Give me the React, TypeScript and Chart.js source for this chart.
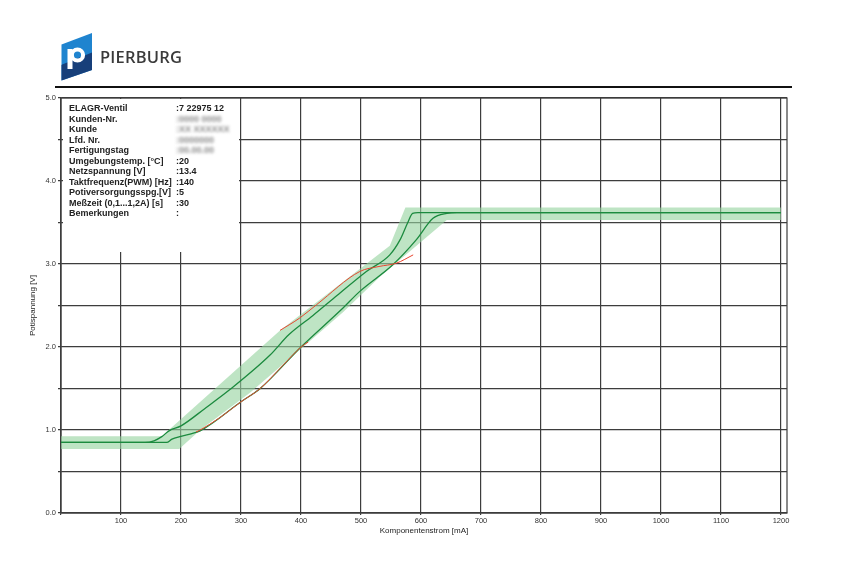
import React, { useEffect, useRef } from "react";
import { Chart, registerables } from "chart.js";

Chart.register(...registerables);

// ---- data ----
const xTickValues = [0, 100, 200, 300, 400, 500, 600, 700, 800, 900, 1000, 1100, 1200];
const yTickValues = [0, 0.5, 1, 1.5, 2, 2.5, 3, 3.5, 4, 4.5, 5];

const bandUpperX = [0, 168, 365, 548, 574, 1200];
const bandUpperY = [0.925, 0.925, 2.2, 3.22, 3.68, 3.68];
const bandLowerX = [0, 197, 232, 315, 400, 470, 532, 643, 1200];
const bandLowerY = [0.77, 0.77, 1.0, 1.45, 1.98, 2.42, 2.85, 3.53, 3.53];

const greenUpX = [0, 140, 155, 168, 180, 200, 240, 282, 348, 380, 420, 460, 509, 548, 565, 578, 586, 595, 1200];
const greenUpY = [0.85, 0.85, 0.87, 0.92, 0.99, 1.05, 1.26, 1.49, 1.9, 2.15, 2.38, 2.62, 2.91, 3.11, 3.29, 3.5, 3.61, 3.62, 3.62];

const greenLowX = [0, 176, 185, 198, 215, 232, 300, 332, 400, 470, 498, 553, 592, 620, 643, 660, 1200];
const greenLowY = [0.85, 0.85, 0.89, 0.92, 0.95, 0.99, 1.34, 1.5, 2.0, 2.47, 2.67, 2.99, 3.29, 3.55, 3.61, 3.62, 3.62];

const redLowX = [225, 232, 265, 300, 332, 370, 400, 412];
const redLowY = [0.975, 1.0, 1.15, 1.34, 1.5, 1.78, 2.0, 2.06];
const redUpX = [365, 398, 426, 498, 530, 559, 587];
const redUpY = [2.2, 2.35, 2.51, 2.91, 2.97, 3.01, 3.11];

const infoLabels = [
  "ELAGR-Ventil",
  "Kunden-Nr.",
  "Kunde",
  "Lfd. Nr.",
  "Fertigungstag",
  "Umgebungstemp. [°C]",
  "Netzspannung  [V]",
  "Taktfrequenz(PWM) [Hz]",
  "Potiversorgungsspg.[V]",
  "Meßzeit (0,1...1,2A) [s]",
  "Bemerkungen",
];
const infoValues = [":7 22975 12", ":0000 0000", ":XX XXXXXX", ":0000000", ":00.00.00", ":20", ":13.4", ":140", ":5", ":30", ":"];
const infoBlurred = [false, true, true, true, true, false, false, false, false, false, false];

const pts = (xs: number[], ys: number[]) => xs.map((x, i) => ({ x, y: ys[i] }));

const GREEN = "#1b8a3e";
const RED = "#e8452f";
const BAND = "rgba(150, 212, 160, 0.62)";
const GRID = "#3d3d3d";
const FONT = "'Liberation Sans', Arial, Helvetica, sans-serif";

const framePlugin = {
  id: "frame",
  beforeDatasetsDraw(chart: any) {
    const { ctx, chartArea } = chart;
    ctx.save();
    ctx.strokeStyle = GRID;
    ctx.lineWidth = 1.2;
    ctx.strokeRect(chartArea.left, chartArea.top, chartArea.right - chartArea.left, chartArea.bottom - chartArea.top);
    ctx.restore();
  },
};

function PlotChart() {
  const ref = useRef<HTMLCanvasElement>(null);
  useEffect(() => {
    if (!ref.current) return;
    const line = (xs: number[], ys: number[], color: string, width: number, order: number) => ({
      data: pts(xs, ys),
      borderColor: color,
      borderWidth: width,
      pointRadius: 0,
      fill: false,
      cubicInterpolationMode: "monotone",
      order,
    });
    const chart = new Chart(ref.current, {
      type: "line",
      data: {
        datasets: [
          {
            data: pts(bandUpperX, bandUpperY),
            borderColor: "rgba(0,0,0,0)",
            borderWidth: 0,
            pointRadius: 0,
            fill: false,
            order: 10,
          },
          {
            data: pts(bandLowerX, bandLowerY),
            borderColor: "rgba(0,0,0,0)",
            borderWidth: 0,
            pointRadius: 0,
            backgroundColor: BAND,
            fill: "-1",
            order: 9,
          },
          line(greenUpX, greenUpY, GREEN, 1.3, 5),
          line(greenLowX, greenLowY, GREEN, 1.3, 4),
          line(redLowX, redLowY, RED, 1, 1),
          line(redUpX, redUpY, RED, 1, 1),
        ],
      },
      options: {
        animation: false,
        responsive: false,
        maintainAspectRatio: false,
        layout: { padding: { top: 98, right: 63, left: 0, bottom: 0 } },
        plugins: { legend: { display: false }, tooltip: { enabled: false } },
        scales: {
          x: {
            type: "linear",
            min: 0,
            max: 1210,
            afterBuildTicks: (s: any) => {
              s.ticks = xTickValues.map((v) => ({ value: v }));
            },
            ticks: {
              autoSkip: false,
              maxRotation: 0,
              padding: 1,
              color: "#333",
              font: { family: FONT, size: 7.5 },
              callback: (v: any) => (v === 0 ? "" : String(v)),
            },
            grid: { color: GRID, lineWidth: 1.2, tickLength: 2 },
            border: { color: GRID, width: 1.2 },
            title: {
              display: true,
              text: "Komponentenstrom [mA]",
              color: "#222",
              font: { family: FONT, size: 8 },
              padding: { top: 0, bottom: 44 },
            },
            afterFit: (s: any) => {
              s.height = 67;
            },
          },
          y: {
            type: "linear",
            min: 0,
            max: 5,
            afterBuildTicks: (s: any) => {
              s.ticks = yTickValues.map((v) => ({ value: v }));
            },
            ticks: {
              autoSkip: false,
              padding: 2,
              color: "#333",
              font: { family: FONT, size: 7.5 },
              callback: (v: any) => (Number.isInteger(v) ? Number(v).toFixed(1) : ""),
            },
            grid: { color: GRID, lineWidth: 1.2, tickLength: 3 },
            border: { color: GRID, width: 1.2 },
            title: {
              display: true,
              text: "Potispannung [V]",
              color: "#222",
              font: { family: FONT, size: 8 },
              padding: { top: 28, bottom: 0 },
            },
            afterFit: (s: any) => {
              s.width = 61;
            },
          },
        },
      },
      plugins: [framePlugin],
    } as any);
    return () => chart.destroy();
  }, []);
  return <canvas ref={ref} width={850} height={580} style={{ position: "absolute", left: 0, top: 0 }} />;
}

function Logo() {
  return (
    <svg width={40} height={56} viewBox="0 0 40 56" style={{ position: "absolute", left: 56, top: 29 }}>
      <defs>
        <clipPath id="pc">
          <polygon points="5.5,15.5 36,4 36,41 5.5,51.5" />
        </clipPath>
      </defs>
      <g clipPath="url(#pc)">
        <rect x={0} y={0} width={40} height={56} fill="#1f84cf" />
        <polygon points="0,38 40,22 40,56 0,56" fill="#173f7a" />
      </g>
      <rect x={11.5} y={20} width={5} height={20} fill="#fff" />
      <circle cx={21.5} cy={26} r={5.6} fill="none" stroke="#fff" strokeWidth={4} />
    </svg>
  );
}

export default function App() {
  const rowH = 10.5;
  return (
    <div style={{ position: "absolute", left: 0, top: 0, width: 850, height: 580, background: "#fff", overflow: "hidden" }}>
      <PlotChart />
      <Logo />
      <div
        style={{
          position: "absolute",
          left: 100,
          top: 46,
          fontFamily: "'Open Sans', 'Noto Sans', sans-serif",
          fontWeight: 600,
          fontSize: 16.5,
          color: "#3a3a3a",
          lineHeight: "22px",
          letterSpacing: 0.2,
        }}
      >
        PIERBURG
      </div>
      <div style={{ position: "absolute", left: 55, top: 86, width: 737, height: 2, background: "#111" }} />
      <div
        style={{
          position: "absolute",
          left: 63,
          top: 99,
          width: 176,
          height: 153,
          background: "#fff",
          fontFamily: FONT,
          fontWeight: 700,
          fontSize: 9,
          color: "#222",
        }}
      >
        {infoLabels.map((lab, i) => (
          <div key={i} style={{ position: "absolute", left: 6, top: 4 + i * rowH, lineHeight: "10px", whiteSpace: "nowrap" }}>
            {lab}
          </div>
        ))}
        {infoValues.map((val, i) => (
          <div
            key={"v" + i}
            style={{
              position: "absolute",
              left: 113,
              top: 4 + i * rowH,
              lineHeight: "10px",
              whiteSpace: "nowrap",
              color: infoBlurred[i] ? "#8a8a8a" : "#222",
              filter: infoBlurred[i] ? "blur(1.6px)" : undefined,
            }}
          >
            {val}
          </div>
        ))}
      </div>
    </div>
  );
}
